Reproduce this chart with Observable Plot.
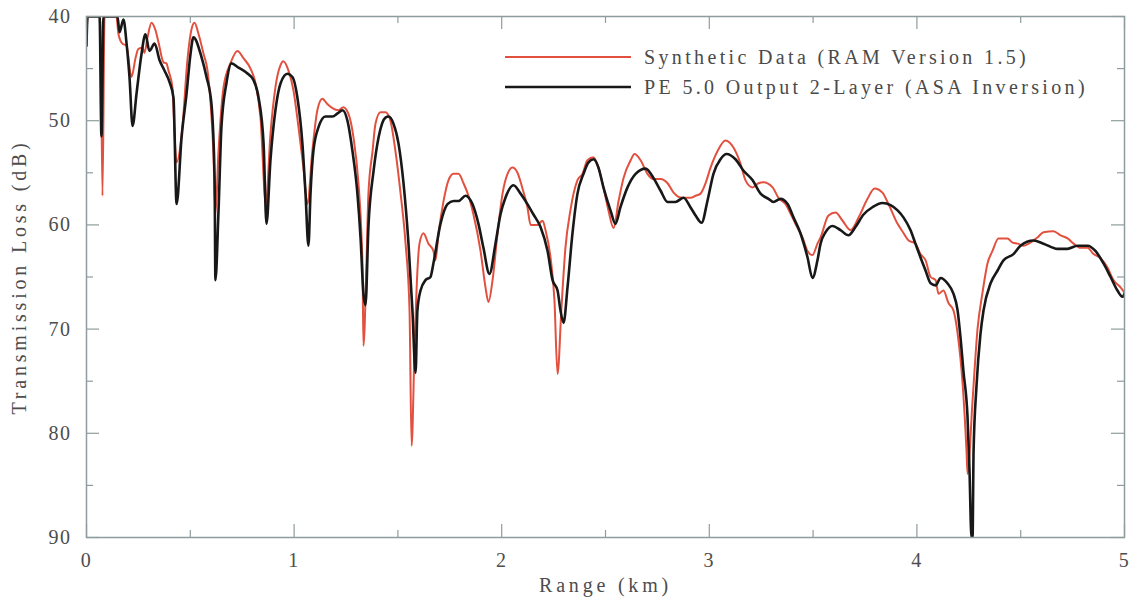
<!DOCTYPE html>
<html><head><meta charset="utf-8">
<script src="https://cdn.jsdelivr.net/npm/d3@7"></script>
<script src="https://cdn.jsdelivr.net/npm/@observablehq/plot@0.6"></script>
<style>
body{margin:0;background:#fff;}
#wrap{position:relative;width:1131px;height:597px;}
#legend{position:absolute;left:505px;top:42px;font-family:"Liberation Serif",serif;font-size:20px;letter-spacing:3.35px;color:#4a4a4a;}
.row{display:flex;align-items:center;height:30px;white-space:nowrap;}
.row svg{margin-right:13px;display:block;}
</style></head>
<body><div id="wrap"><div id="legend"></div></div>
<script>
// ---- data ----
const seriesNames = ["Synthetic Data (RAM Version 1.5)", "PE 5.0 Output 2-Layer (ASA Inversion)"];
const seriesColors = ["#e2513f", "#181818"];

const ramRange = [0,0.005,0.067,0.077,0.087,0.144,0.154,0.173,0.193,0.212,
0.217,0.236,0.250,0.270,0.279,0.294,0.313,0.332,0.347,0.371,
0.385,0.395,0.414,0.424,0.434,0.462,0.486,0.505,0.520,0.540,
0.564,0.583,0.597,0.611,0.621,0.636,0.660,0.693,0.727,0.756,
0.790,0.814,0.838,0.864,0.886,0.910,0.934,0.948,0.973,0.997,
1.021,1.045,1.064,1.088,1.112,1.136,1.160,1.185,1.213,1.237,
1.261,1.286,1.310,1.325,1.330,1.334,1.349,1.358,1.378,1.392,
1.416,1.440,1.464,1.488,1.513,1.537,1.556,1.566,1.580,1.594,
1.604,1.623,1.647,1.671,1.681,1.696,1.720,1.744,1.768,1.792,
1.816,1.840,1.864,1.898,1.922,1.936,1.956,1.980,2.004,2.028,
2.052,2.076,2.100,2.124,2.139,2.172,2.197,2.211,2.235,2.254,
2.269,2.288,2.307,2.331,2.365,2.389,2.413,2.442,2.466,2.490,
2.514,2.539,2.563,2.587,2.621,2.640,2.669,2.702,2.731,2.765,
2.799,2.828,2.871,2.910,2.934,2.958,2.982,3.006,3.040,3.078,
3.117,3.150,3.174,3.208,3.237,3.261,3.305,3.333,3.367,3.391,
3.415,3.449,3.473,3.497,3.521,3.536,3.574,3.608,3.642,3.680,
3.719,3.762,3.796,3.834,3.863,3.907,3.936,3.960,3.993,4.017,
4.042,4.066,4.090,4.104,4.128,4.152,4.176,4.196,4.220,4.239,
4.244,4.268,4.292,4.316,4.340,4.364,4.393,4.436,4.461,4.485,
4.514,4.547,4.581,4.610,4.658,4.692,4.726,4.755,4.788,4.822,
4.851,4.885,4.918,4.947,4.981,5.000];
const ramTL = [42.8,40,40,57.2,40,40,41.7,42.6,42.8,45.5,
45.8,44.0,43.1,43.0,43.5,42.0,40.6,41.3,42.5,44.4,
44.5,45.2,46.8,51.3,54.0,50.6,44.2,41.3,40.6,41.7,
43.6,45.2,48.1,52.9,58.9,52.9,46.8,44.5,43.3,44.0,
45.0,46.4,49.7,58.0,51.3,46.8,44.7,44.3,45.2,47.1,
50.6,54.5,58.0,52.9,49.0,47.9,48.4,48.8,49.0,48.7,
49.3,51.6,56.0,61.2,64.5,71.6,63.4,57.0,52.9,50.3,
49.2,49.2,50.0,52.9,57.0,61.8,68.2,81.2,72.0,64.4,
61.8,60.8,61.8,62.5,63.4,60.8,57.7,55.7,55.1,55.1,
56.0,57.2,59.0,62.5,66.0,67.4,65.3,60.8,57.0,55.1,
54.5,55.0,56.5,58.3,60.0,60.0,59.6,60.5,63.1,67.2,
74.3,67.9,62.2,58.6,55.7,55.1,53.8,53.5,54.5,56.4,
58.6,60.3,57.7,55.5,53.8,53.2,53.8,55.1,55.6,55.6,
56.0,56.9,57.4,57.4,57.2,57.0,56.0,54.5,52.9,51.9,
52.6,54.1,55.7,56.4,56.0,55.9,56.4,57.4,58.0,58.9,
59.9,61.2,62.5,62.9,61.8,61.2,59.1,58.8,59.6,60.5,
59.3,57.5,56.5,56.9,58.0,59.9,60.8,61.5,61.8,62.8,
63.4,65.0,65.3,66.6,66.3,67.5,68.2,70.4,75.2,81.7,
83.9,76.9,70.0,66.5,63.7,62.5,61.3,61.3,61.7,61.8,
62.0,61.7,61.2,60.7,60.6,61.0,61.3,61.8,62.2,62.2,
62.8,63.2,64.1,65.3,66.0,66.5];

const peRange = [0,0.005,0.063,0.072,0.082,0.149,0.159,0.178,0.193,0.207,
0.222,0.241,0.265,0.284,0.303,0.328,0.352,0.376,0.400,0.419,
0.434,0.458,0.482,0.501,0.515,0.554,0.578,0.602,0.617,0.621,
0.636,0.650,0.674,0.698,0.732,0.771,0.804,0.829,0.853,0.867,
0.886,0.910,0.935,0.968,0.992,1.016,1.040,1.055,1.069,1.079,
1.093,1.118,1.151,1.185,1.209,1.233,1.257,1.281,1.305,1.320,
1.334,1.344,1.358,1.383,1.407,1.440,1.455,1.479,1.503,1.527,
1.551,1.570,1.585,1.594,1.609,1.633,1.657,1.671,1.705,1.739,
1.768,1.792,1.826,1.859,1.888,1.912,1.941,1.970,1.994,2.018,
2.057,2.091,2.124,2.153,2.187,2.221,2.245,2.269,2.283,2.298,
2.317,2.341,2.365,2.394,2.418,2.442,2.466,2.490,2.524,2.548,
2.572,2.606,2.645,2.693,2.731,2.765,2.799,2.837,2.876,2.909,
2.934,2.963,2.991,3.020,3.054,3.083,3.126,3.165,3.208,3.247,
3.285,3.309,3.343,3.377,3.406,3.439,3.473,3.497,3.521,3.536,
3.560,3.593,3.632,3.670,3.704,3.743,3.786,3.834,3.873,3.907,
3.936,3.969,3.993,4.017,4.042,4.066,4.090,4.114,4.147,4.176,
4.196,4.210,4.224,4.244,4.253,4.263,4.268,4.273,4.287,4.306,
4.321,4.355,4.388,4.417,4.465,4.499,4.562,4.610,4.677,4.725,
4.774,4.822,4.860,4.899,4.933,4.966,4.990,5.000];
const peTL = [42.8,40,40,51.5,40,40,41.5,40.3,42.6,45.8,
50.5,47.4,43.6,41.7,43.3,42.6,44.2,45.2,46.3,47.8,
58.0,51.6,47.4,43.6,42.0,43.9,45.8,48.4,55.5,65.3,
58.6,50.6,46.4,44.5,44.9,45.4,46.1,47.8,52.2,59.9,
53.8,49.0,46.4,45.5,45.8,47.8,52.2,57.0,62.0,57.0,
52.9,50.6,49.6,49.6,49.3,49.0,50.0,52.9,57.0,61.2,
66.6,67.7,60.2,54.8,51.6,49.7,49.6,50.3,52.2,56.0,
61.8,68.2,74.2,68.2,66.3,65.3,65.0,63.7,59.9,58.0,
57.7,57.7,57.2,58.0,59.9,62.2,64.7,61.8,59.0,57.4,
56.2,57.0,58.0,59.0,60.2,62.5,65.3,66.3,68.2,69.4,
66.0,60.8,57.0,55.1,54.0,53.7,54.5,56.4,58.6,59.9,
58.3,56.4,55.1,54.6,55.5,56.7,57.8,57.8,57.4,58.3,
59.1,59.8,57.7,55.1,53.7,53.2,53.7,54.8,55.7,57.0,
57.5,57.8,57.5,58.0,59.3,60.8,63.1,65.1,63.4,61.8,
60.7,60.1,60.5,61.0,60.2,59.0,58.3,57.9,58.1,58.6,
59.3,60.5,61.8,63.1,64.4,65.6,65.8,65.1,65.6,66.6,
68.2,70.8,74.0,78.5,83.3,90,90,81.7,75.5,70.5,
68.2,65.6,64.4,63.4,62.8,62.0,61.5,61.8,62.3,62.3,
62.0,62.0,62.5,63.7,65.0,66.3,66.9,66.6];

const xMajor = [0, 1, 2, 3, 4, 5];
const xMinor = [0.5, 1.5, 2.5, 3.5, 4.5];
const yMajor = [40, 50, 60, 70, 80, 90];
const yMinor = [45, 55, 65, 75, 85];

// ---- build tables ----
const ram = ramRange.map((r, i) => ({r, tl: ramTL[i]}));
const pe = peRange.map((r, i) => ({r, tl: peTL[i]}));

const W = 1131, H = 597, mL = 86, mR = 7, mT = 16, mB = 60;
const plotW = W - mL - mR, plotH = H - mT - mB;
const axisColor = "#8f9c9e";
const majorLen = 13, minorLen = 7;
const tk = {stroke: axisColor, strokeWidth: 1.2};

const chart = Plot.plot({
  width: W, height: H,
  marginLeft: mL, marginRight: mR, marginTop: mT, marginBottom: mB,
  style: {fontFamily: "'Liberation Serif', serif", fontSize: "20px", color: "#4d4d4d", background: "white", overflow: "visible"},
  x: {domain: [0, 5]},
  y: {domain: [40, 90], reverse: true},
  marks: [
    Plot.line(ram, {x: "r", y: "tl", stroke: seriesColors[0], strokeWidth: 2, curve: "monotone-x", clip: true}),
    Plot.line(pe, {x: "r", y: "tl", stroke: seriesColors[1], strokeWidth: 2.6, curve: "monotone-x", clip: true}),
    Plot.frame({stroke: axisColor, strokeWidth: 1.5}),
    // inward ticks (bottom, top, left, right)
    Plot.tickX(xMajor, {x: d => d, insetTop: plotH - majorLen, ...tk}),
    Plot.tickX(xMinor, {x: d => d, insetTop: plotH - minorLen, ...tk}),
    Plot.tickX(xMajor, {x: d => d, insetBottom: plotH - majorLen, ...tk}),
    Plot.tickX(xMinor, {x: d => d, insetBottom: plotH - minorLen, ...tk}),
    Plot.tickY(yMajor, {y: d => d, insetRight: plotW - majorLen, ...tk}),
    Plot.tickY(yMinor, {y: d => d, insetRight: plotW - minorLen, ...tk}),
    Plot.tickY(yMajor, {y: d => d, insetLeft: plotW - majorLen, ...tk}),
    Plot.tickY(yMinor, {y: d => d, insetLeft: plotW - minorLen, ...tk}),
    // labels
    Plot.axisX(xMajor, {anchor: "bottom", tickSize: 0, tickPadding: 15, tickFormat: "d", label: "Range (km)", labelAnchor: "center", labelOffset: 54, labelArrow: "none"}),
    Plot.axisY(yMajor, {anchor: "left", tickSize: 0, tickPadding: 15, tickFormat: "d", label: "Transmission Loss (dB)", labelAnchor: "center", labelOffset: 75, labelArrow: "none"})
  ]
});
document.getElementById("wrap").prepend(chart);
d3.select(chart).selectAll("g[aria-label='x-axis tick label'] text, g[aria-label='y-axis tick label'] text").style("letter-spacing", "1.5px");
d3.select(chart).selectAll("g[aria-label='x-axis label'] text, g[aria-label='y-axis label'] text").style("letter-spacing", "3.8px");

// ---- legend ----
const legend = d3.select("#legend");
seriesNames.forEach((name, i) => {
  const row = legend.append("div").attr("class", "row");
  const s = row.append("svg").attr("width", 126).attr("height", 6);
  s.append("line").attr("x1", 0).attr("x2", 126).attr("y1", 3).attr("y2", 3)
    .attr("stroke", seriesColors[i]).attr("stroke-width", i === 0 ? 2 : 2.6);
  row.append("span").text(name);
});
</script>
</body></html>
